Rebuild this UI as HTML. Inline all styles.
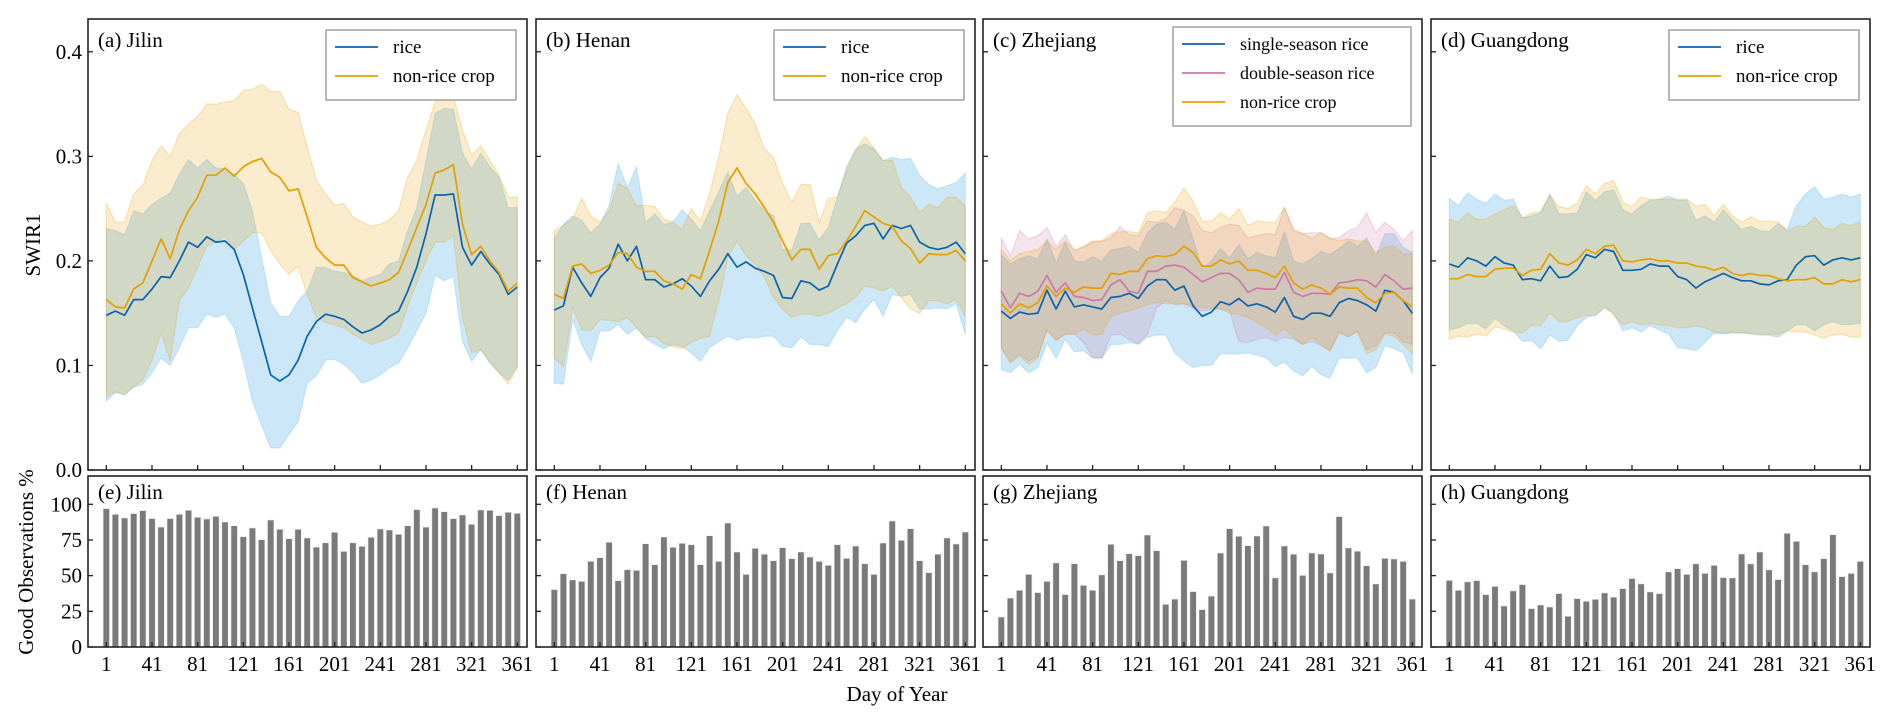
<!DOCTYPE html>
<html><head><meta charset="utf-8">
<style>
html,body{margin:0;padding:0;background:#fff;}
svg{display:block;font-family:"Liberation Serif",serif;}
</style></head>
<body>
<svg id="fig" width="1892" height="721" viewBox="0 0 1892 721" xmlns="http://www.w3.org/2000/svg">
<text x="40" y="245" font-size="21" text-anchor="middle" transform="rotate(-90 40 245)">SWIR1</text>
<text x="33" y="562" font-size="21" text-anchor="middle" transform="rotate(-90 33 562)">Good Observations %</text>
<text x="897" y="701" font-size="21" text-anchor="middle">Day of Year</text>
</svg>
<script>
// ---- data ----
const days = [];
for (let d = 1; d <= 361; d += 8) days.push(d);
const xTickLabels = [1,41,81,121,161,201,241,281,321,361];
const yTickLabelsTop = [0.0,0.1,0.2,0.3,0.4];
const yTickLabelsBottom = [0,25,50,75,100];

const jilinRiceMean = [0.148,0.152,0.148,0.163,0.163,0.173,0.185,0.184,0.2,0.218,0.213,0.223,0.218,0.219,0.211,0.187,0.155,0.123,0.091,0.085,0.091,0.105,0.128,0.142,0.149,0.147,0.144,0.137,0.131,0.134,0.139,0.147,0.152,0.171,0.194,0.226,0.263,0.263,0.264,0.213,0.196,0.209,0.197,0.187,0.168,0.175];
const jilinRiceUpper = [0.231,0.229,0.225,0.248,0.245,0.254,0.26,0.265,0.283,0.297,0.289,0.297,0.289,0.288,0.283,0.274,0.248,0.203,0.16,0.147,0.147,0.162,0.171,0.194,0.194,0.19,0.189,0.186,0.181,0.184,0.187,0.197,0.2,0.229,0.251,0.296,0.341,0.346,0.345,0.303,0.288,0.303,0.29,0.28,0.251,0.251];
const jilinRiceLower = [0.066,0.074,0.072,0.079,0.082,0.093,0.107,0.1,0.117,0.136,0.136,0.149,0.146,0.149,0.136,0.104,0.066,0.043,0.021,0.021,0.034,0.046,0.083,0.09,0.105,0.106,0.101,0.093,0.083,0.086,0.091,0.098,0.102,0.117,0.133,0.15,0.186,0.181,0.185,0.123,0.104,0.115,0.102,0.093,0.086,0.099];
const jilinNonMean = [0.163,0.156,0.155,0.173,0.179,0.2,0.221,0.202,0.23,0.248,0.261,0.282,0.282,0.289,0.281,0.29,0.295,0.298,0.285,0.28,0.267,0.269,0.242,0.213,0.203,0.196,0.196,0.184,0.18,0.176,0.179,0.182,0.189,0.21,0.232,0.254,0.284,0.287,0.292,0.235,0.206,0.214,0.2,0.189,0.171,0.179];
const jilinNonUpper = [0.255,0.237,0.237,0.264,0.272,0.296,0.31,0.3,0.322,0.331,0.338,0.35,0.35,0.352,0.353,0.363,0.364,0.369,0.362,0.362,0.345,0.342,0.309,0.277,0.264,0.253,0.255,0.242,0.237,0.233,0.235,0.239,0.248,0.28,0.296,0.325,0.352,0.357,0.357,0.325,0.301,0.31,0.296,0.282,0.261,0.261];
const jilinNonLower = [0.07,0.075,0.072,0.08,0.086,0.105,0.131,0.104,0.162,0.174,0.194,0.214,0.218,0.224,0.211,0.219,0.227,0.227,0.21,0.197,0.187,0.195,0.168,0.146,0.141,0.139,0.136,0.13,0.125,0.12,0.123,0.126,0.131,0.157,0.179,0.2,0.218,0.218,0.224,0.146,0.112,0.115,0.104,0.093,0.082,0.098];

const henanRiceMean = [0.153,0.157,0.194,0.179,0.166,0.184,0.193,0.216,0.2,0.214,0.182,0.182,0.175,0.178,0.183,0.176,0.166,0.181,0.192,0.207,0.194,0.199,0.193,0.19,0.186,0.165,0.164,0.181,0.179,0.172,0.176,0.197,0.217,0.224,0.234,0.236,0.221,0.234,0.231,0.234,0.218,0.213,0.211,0.213,0.218,0.207];
const henanRiceUpper = [0.222,0.235,0.243,0.239,0.227,0.235,0.253,0.293,0.27,0.29,0.237,0.245,0.235,0.237,0.249,0.24,0.229,0.248,0.266,0.285,0.262,0.27,0.258,0.248,0.243,0.211,0.21,0.236,0.236,0.22,0.232,0.261,0.29,0.307,0.312,0.307,0.296,0.299,0.297,0.298,0.282,0.273,0.269,0.272,0.275,0.284];
const henanRiceLower = [0.083,0.082,0.144,0.12,0.104,0.133,0.133,0.139,0.13,0.136,0.126,0.12,0.116,0.12,0.118,0.112,0.104,0.117,0.123,0.128,0.124,0.127,0.126,0.128,0.128,0.118,0.117,0.127,0.12,0.12,0.118,0.133,0.146,0.141,0.154,0.163,0.147,0.168,0.166,0.168,0.154,0.154,0.155,0.154,0.159,0.13];
const henanNonMean = [0.168,0.164,0.195,0.197,0.188,0.191,0.196,0.208,0.207,0.194,0.19,0.19,0.181,0.178,0.173,0.187,0.183,0.21,0.238,0.275,0.289,0.274,0.264,0.251,0.237,0.219,0.201,0.211,0.211,0.192,0.205,0.207,0.219,0.233,0.248,0.242,0.236,0.233,0.219,0.212,0.198,0.207,0.206,0.206,0.21,0.2];
const henanNonUpper = [0.229,0.234,0.24,0.26,0.243,0.237,0.248,0.274,0.269,0.253,0.253,0.252,0.24,0.237,0.23,0.25,0.238,0.264,0.299,0.341,0.359,0.346,0.331,0.307,0.299,0.274,0.256,0.273,0.273,0.237,0.26,0.261,0.286,0.306,0.319,0.308,0.296,0.296,0.27,0.261,0.246,0.254,0.251,0.261,0.261,0.252];
const henanNonLower = [0.107,0.099,0.155,0.134,0.133,0.144,0.143,0.142,0.146,0.136,0.127,0.128,0.121,0.118,0.116,0.122,0.126,0.128,0.162,0.203,0.219,0.205,0.197,0.184,0.165,0.154,0.146,0.149,0.149,0.147,0.15,0.155,0.159,0.165,0.176,0.174,0.171,0.176,0.165,0.154,0.15,0.162,0.162,0.159,0.163,0.147];

const zjSingleMean = [0.152,0.145,0.151,0.149,0.15,0.172,0.154,0.171,0.156,0.158,0.156,0.154,0.165,0.166,0.169,0.164,0.176,0.182,0.182,0.172,0.176,0.157,0.147,0.151,0.161,0.158,0.164,0.157,0.159,0.156,0.151,0.165,0.147,0.144,0.15,0.15,0.147,0.16,0.164,0.162,0.158,0.152,0.172,0.17,0.162,0.15];
const zjSingleUpper = [0.206,0.197,0.202,0.205,0.202,0.221,0.198,0.218,0.2,0.199,0.204,0.2,0.21,0.212,0.214,0.208,0.227,0.235,0.237,0.23,0.248,0.221,0.192,0.2,0.212,0.203,0.216,0.202,0.208,0.205,0.203,0.228,0.2,0.197,0.202,0.209,0.206,0.212,0.219,0.214,0.222,0.205,0.226,0.226,0.213,0.208];
const zjSingleLower = [0.096,0.093,0.101,0.093,0.098,0.121,0.107,0.125,0.113,0.114,0.107,0.107,0.12,0.12,0.122,0.12,0.127,0.129,0.129,0.112,0.104,0.098,0.1,0.1,0.111,0.111,0.111,0.112,0.11,0.107,0.099,0.103,0.095,0.09,0.099,0.091,0.088,0.107,0.107,0.107,0.093,0.098,0.119,0.116,0.112,0.092];
const zjDoubleMean = [0.171,0.155,0.169,0.166,0.171,0.186,0.17,0.179,0.166,0.165,0.162,0.163,0.177,0.182,0.171,0.169,0.19,0.19,0.195,0.196,0.194,0.187,0.18,0.184,0.188,0.188,0.182,0.17,0.174,0.173,0.173,0.189,0.17,0.166,0.169,0.169,0.168,0.179,0.18,0.182,0.181,0.175,0.187,0.181,0.173,0.174];
const zjDoubleUpper = [0.222,0.205,0.229,0.221,0.224,0.232,0.214,0.225,0.21,0.213,0.218,0.219,0.222,0.233,0.225,0.224,0.238,0.237,0.24,0.251,0.248,0.243,0.229,0.227,0.232,0.235,0.234,0.222,0.224,0.226,0.225,0.251,0.23,0.226,0.227,0.227,0.221,0.222,0.229,0.232,0.246,0.227,0.237,0.23,0.219,0.229];
const zjDoubleLower = [0.117,0.104,0.111,0.104,0.109,0.133,0.124,0.13,0.13,0.122,0.108,0.107,0.129,0.13,0.125,0.121,0.13,0.155,0.162,0.158,0.159,0.155,0.152,0.154,0.154,0.152,0.123,0.122,0.125,0.127,0.123,0.127,0.125,0.12,0.123,0.119,0.114,0.131,0.127,0.133,0.115,0.119,0.131,0.131,0.123,0.12];
const zjNonMean = [0.159,0.15,0.159,0.155,0.16,0.176,0.166,0.174,0.17,0.175,0.174,0.174,0.188,0.187,0.19,0.19,0.202,0.205,0.204,0.206,0.214,0.208,0.195,0.195,0.201,0.197,0.2,0.191,0.191,0.188,0.184,0.195,0.179,0.173,0.177,0.174,0.168,0.175,0.174,0.174,0.165,0.16,0.169,0.17,0.162,0.156];
const zjNonUpper = [0.211,0.2,0.207,0.209,0.211,0.219,0.211,0.219,0.21,0.214,0.219,0.219,0.226,0.228,0.228,0.227,0.246,0.248,0.246,0.256,0.27,0.257,0.238,0.238,0.246,0.24,0.25,0.234,0.238,0.237,0.237,0.251,0.229,0.226,0.222,0.227,0.222,0.219,0.221,0.219,0.219,0.208,0.213,0.214,0.206,0.207];
const zjNonLower = [0.117,0.102,0.109,0.101,0.107,0.135,0.124,0.13,0.13,0.135,0.129,0.13,0.147,0.15,0.152,0.155,0.158,0.16,0.159,0.159,0.159,0.157,0.155,0.155,0.154,0.15,0.149,0.146,0.141,0.136,0.129,0.135,0.127,0.12,0.127,0.12,0.114,0.132,0.128,0.132,0.111,0.115,0.13,0.128,0.12,0.111];

const gdRiceMean = [0.197,0.194,0.203,0.2,0.195,0.204,0.198,0.196,0.182,0.183,0.181,0.195,0.184,0.185,0.192,0.206,0.203,0.211,0.209,0.191,0.191,0.192,0.197,0.195,0.195,0.185,0.182,0.174,0.18,0.184,0.188,0.184,0.181,0.181,0.178,0.177,0.181,0.182,0.196,0.204,0.205,0.196,0.201,0.203,0.201,0.203];
const gdRiceUpper = [0.26,0.253,0.265,0.259,0.255,0.264,0.258,0.259,0.241,0.243,0.246,0.264,0.245,0.245,0.246,0.266,0.258,0.266,0.268,0.249,0.245,0.253,0.258,0.259,0.262,0.258,0.258,0.239,0.243,0.237,0.249,0.239,0.23,0.233,0.229,0.228,0.236,0.23,0.253,0.264,0.271,0.259,0.261,0.264,0.261,0.264];
const gdRiceLower = [0.134,0.136,0.14,0.14,0.135,0.145,0.138,0.133,0.123,0.124,0.116,0.129,0.123,0.124,0.138,0.146,0.148,0.155,0.15,0.133,0.136,0.132,0.138,0.134,0.13,0.117,0.116,0.114,0.122,0.131,0.13,0.131,0.131,0.13,0.129,0.129,0.127,0.133,0.139,0.139,0.133,0.139,0.142,0.139,0.139,0.141];
const gdNonMean = [0.183,0.183,0.187,0.185,0.185,0.192,0.193,0.193,0.186,0.191,0.192,0.207,0.198,0.196,0.201,0.211,0.207,0.214,0.215,0.2,0.199,0.201,0.202,0.2,0.2,0.198,0.198,0.195,0.194,0.191,0.194,0.188,0.186,0.188,0.186,0.186,0.183,0.181,0.182,0.182,0.184,0.178,0.178,0.182,0.18,0.182];
const gdNonUpper = [0.24,0.237,0.246,0.24,0.24,0.245,0.249,0.253,0.241,0.246,0.247,0.263,0.252,0.25,0.255,0.272,0.264,0.274,0.277,0.256,0.252,0.261,0.259,0.259,0.259,0.259,0.259,0.252,0.254,0.243,0.254,0.243,0.237,0.242,0.238,0.238,0.237,0.228,0.233,0.233,0.242,0.232,0.23,0.236,0.234,0.237];
const gdNonLower = [0.125,0.128,0.127,0.13,0.128,0.137,0.135,0.132,0.131,0.138,0.138,0.15,0.142,0.142,0.146,0.148,0.148,0.156,0.148,0.139,0.142,0.139,0.14,0.139,0.138,0.136,0.136,0.138,0.136,0.132,0.131,0.132,0.131,0.131,0.13,0.13,0.13,0.133,0.132,0.132,0.129,0.126,0.129,0.13,0.127,0.127];

const jilinObs = [97,93,90.4,93.5,95.6,90,84,90,93,95.8,90.9,89.7,91.6,87.6,85,77.3,83.4,75.2,89,82.5,75.9,82.5,76.4,70,73,80.4,67,73,70.6,76.9,82.7,82,79,85,96.3,84,97.4,94.8,90,92.5,86,96,95.8,92.1,94.4,93.7];
const henanObs = [40.2,51.4,47,46,60,62.6,73.4,46.5,54.2,53.7,72.4,57.7,77.1,69.9,72.7,71.7,57.7,78,60,86.9,66.6,50.9,69.2,65,60.5,69.6,61.9,66.6,63.1,60,57.2,71.7,62.1,70.8,58.4,50.9,72.9,88.3,74.8,82.9,60.5,52.1,65,76.4,72.2,80.6];
const zhejiangObs = [21,34.3,39.7,50.9,38.1,46,58.9,36.7,58.4,43.2,39.7,50.5,72,60.5,65.4,64,78.5,67.5,29.9,33.6,60.7,38.8,26.2,35.7,65.9,82.9,77.6,71,77.8,84.8,48.4,70.8,65,50.2,65.9,65.2,51.9,91.4,69.4,67.1,57,44.2,62.1,61.7,60,33.6];
const guangdongObs = [46.7,39.7,45.6,46.5,36.7,42.5,28.7,39.3,43.7,26.9,29.4,28,37.4,21.5,33.9,32,33.4,37.9,35,40.9,47.9,44.2,38.6,37.4,52.6,54.9,50.9,58.2,51.6,57.2,48.6,48.4,65.2,58.2,66.6,54,47.2,79.7,74.1,57.7,52.6,61.9,78.7,49.3,51.6,60];

// ---- layout ----
const NS = 'http://www.w3.org/2000/svg';
const svg = document.getElementById('fig');
const PX = [88, 536, 983, 1431], PW = 439;
const TOP_Y0 = 19, TOP_Y1 = 470, BOT_Y0 = 476, BOT_Y1 = 647;
const COL = {blue:'#0b63ad', orange:'#e69f00', pink:'#cc79a7'};
const FILL = {blue:'#56b4e9', orange:'#e69f00', pink:'#cc79a7'};
const FOP = {blue:0.3, orange:0.2, pink:0.2};
function xs(p, d) { return PX[p] + 18.3 + (d - 1) * 411 / 360; }
function yTop(v) { return TOP_Y1 - v * 1045.5; }
function yBot(v) { return BOT_Y1 - v * 1.427; }
function mk(tag, attrs, parent) {
  const e = document.createElementNS(NS, tag);
  for (const k in attrs) e.setAttribute(k, attrs[k]);
  (parent || svg).appendChild(e);
  return e;
}

const panels = [
  {title:'(a) Jilin', obsTitle:'(e) Jilin', obs:jilinObs, series:[
    {label:'rice', c:'blue', m:jilinRiceMean, u:jilinRiceUpper, l:jilinRiceLower},
    {label:'non-rice crop', c:'orange', m:jilinNonMean, u:jilinNonUpper, l:jilinNonLower}]},
  {title:'(b) Henan', obsTitle:'(f) Henan', obs:henanObs, series:[
    {label:'rice', c:'blue', m:henanRiceMean, u:henanRiceUpper, l:henanRiceLower},
    {label:'non-rice crop', c:'orange', m:henanNonMean, u:henanNonUpper, l:henanNonLower}]},
  {title:'(c) Zhejiang', obsTitle:'(g) Zhejiang', obs:zhejiangObs, series:[
    {label:'single-season rice', c:'blue', m:zjSingleMean, u:zjSingleUpper, l:zjSingleLower},
    {label:'double-season rice', c:'pink', m:zjDoubleMean, u:zjDoubleUpper, l:zjDoubleLower},
    {label:'non-rice crop', c:'orange', m:zjNonMean, u:zjNonUpper, l:zjNonLower}]},
  {title:'(d) Guangdong', obsTitle:'(h) Guangdong', obs:guangdongObs, series:[
    {label:'rice', c:'blue', m:gdRiceMean, u:gdRiceUpper, l:gdRiceLower},
    {label:'non-rice crop', c:'orange', m:gdNonMean, u:gdNonUpper, l:gdNonLower}]}
];

panels.forEach((P, p) => {
  const x0 = PX[p];
  const key = P.title.split(' ')[1].toLowerCase();
  // ---- top panel ----
  const gT = mk('g', {});
  
  
  P.series.forEach(s => {
    let d = '';
    s.u.forEach((v, i) => { d += (i ? 'L' : 'M') + xs(p, days[i]).toFixed(1) + ',' + yTop(v).toFixed(1); });
    for (let i = s.l.length - 1; i >= 0; i--) d += 'L' + xs(p, days[i]).toFixed(1) + ',' + yTop(s.l[i]).toFixed(1);
    const band = mk('path', {d: d + 'Z', fill: FILL[s.c], 'fill-opacity': FOP[s.c], stroke: FILL[s.c], 'stroke-opacity': 0.25, 'stroke-width': 1.2}, gT);
    
    
  });
  P.series.forEach(s => {
    const pts = s.m.map((v, i) => xs(p, days[i]).toFixed(1) + ',' + yTop(v).toFixed(1)).join(' ');
    const line = mk('polyline', {points: pts, fill: 'none', stroke: COL[s.c], 'stroke-width': 1.7, 'stroke-linejoin': 'round'}, gT);
    
    
  });
  const frT = mk('rect', {x: x0, y: TOP_Y0, width: PW, height: TOP_Y1 - TOP_Y0, fill: 'none', stroke: '#222', 'stroke-width': 1.6}, gT);
  
  
  yTickLabelsTop.forEach(v => {
    mk('line', {x1: x0, x2: x0 + 5, y1: yTop(v), y2: yTop(v), stroke: '#222', 'stroke-width': 1.3}, gT);
    if (p === 0) {
      const t = mk('text', {x: x0 - 6, y: yTop(v) + 7, 'font-size': 21, 'text-anchor': 'end'}, gT);
      t.textContent = v.toFixed(1);
      
      
    }
  });
  xTickLabels.forEach(d => mk('line', {x1: xs(p, d), x2: xs(p, d), y1: TOP_Y1, y2: TOP_Y1 - 5, stroke: '#222', 'stroke-width': 1.3}, gT));
  const tt = mk('text', {x: x0 + 10, y: TOP_Y0 + 28, 'font-size': 21}, gT);
  tt.textContent = P.title;
  
  
  // legend
  const n = P.series.length;
  const lw = n === 3 ? 238 : 190;
  const lx = x0 + PW - 11 - lw, ly = TOP_Y0 + (n === 3 ? 8 : 11);
  const lg = mk('g', {}, gT);
  
  
  mk('rect', {x: lx, y: ly, width: lw, height: 12 + n * 29, fill: '#fff', stroke: '#9a9a9a', 'stroke-width': 1.4}, lg);
  P.series.forEach((s, i) => {
    const yy = ly + 17 + i * 29;
    mk('line', {x1: lx + 9, x2: lx + 52, y1: yy, y2: yy, stroke: COL[s.c], 'stroke-width': 1.7}, lg);
    const t = mk('text', {x: lx + 67, y: yy + 6, 'font-size': n === 3 ? 18 : 19}, lg);
    t.textContent = s.label;
    
    
  });

  // ---- bottom panel ----
  const gB = mk('g', {});
  
  
  const bw = 5.6 * 411 / 360;
  P.obs.forEach((v, i) => {
    const cx = xs(p, days[i]);
    const r = mk('rect', {x: (cx - bw / 2).toFixed(1), y: yBot(v).toFixed(1), width: bw.toFixed(1), height: (BOT_Y1 - yBot(v)).toFixed(1), fill: '#7a7a7a', stroke: '#e8e8e8', 'stroke-width': 0.6}, gB);
    
    
  });
  const frB = mk('rect', {x: x0, y: BOT_Y0, width: PW, height: BOT_Y1 - BOT_Y0, fill: 'none', stroke: '#222', 'stroke-width': 1.6}, gB);
  
  
  yTickLabelsBottom.forEach(v => {
    mk('line', {x1: x0, x2: x0 + 5, y1: yBot(v), y2: yBot(v), stroke: '#222', 'stroke-width': 1.3}, gB);
    if (p === 0) {
      const t = mk('text', {x: x0 - 6, y: yBot(v) + 7, 'font-size': 21, 'text-anchor': 'end'}, gB);
      t.textContent = v;
      
      
    }
  });
  xTickLabels.forEach(d => {
    mk('line', {x1: xs(p, d), x2: xs(p, d), y1: BOT_Y1, y2: BOT_Y1 - 5, stroke: '#222', 'stroke-width': 1.3}, gB);
    const t = mk('text', {x: xs(p, d), y: BOT_Y1 + 24, 'font-size': 21, 'text-anchor': 'middle'}, gB);
    t.textContent = d;
    
    
  });
  const bt = mk('text', {x: x0 + 10, y: BOT_Y0 + 23, 'font-size': 21}, gB);
  bt.textContent = P.obsTitle;
  
  
});
</script>
</body></html>
